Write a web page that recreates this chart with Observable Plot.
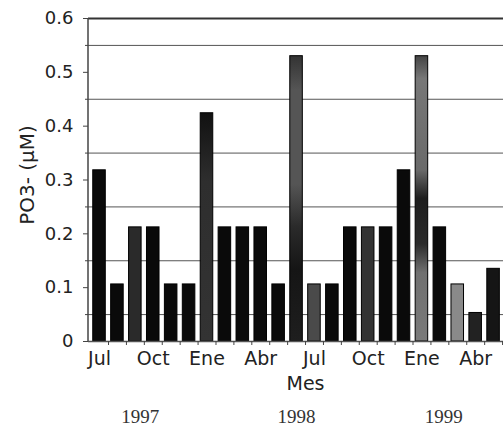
<!DOCTYPE html>
<html>
<head>
<meta charset="utf-8">
<script src="https://cdn.jsdelivr.net/npm/d3@7"></script>
<script src="https://cdn.jsdelivr.net/npm/@observablehq/plot@0.6"></script>
<style>
  html, body { margin: 0; padding: 0; background: #fff; overflow: hidden; }
  #chart svg { display: block; max-width: none !important; }
</style>
</head>
<body>
<div id="chart"></div>
<script>
// Monthly phosphate (PO3-) concentration, July 1997 – June 1999
const months = [
  "1997-07", "1997-08", "1997-09", "1997-10", "1997-11", "1997-12",
  "1998-01", "1998-02", "1998-03", "1998-04", "1998-05", "1998-06",
  "1998-07", "1998-08", "1998-09", "1998-10", "1998-11", "1998-12",
  "1999-01", "1999-02", "1999-03", "1999-04", "1999-05", "1999-06"
];
const po3 = [
  0.318, 0.106, 0.212, 0.212, 0.106, 0.106,
  0.424, 0.212, 0.212, 0.212, 0.106, 0.53,
  0.106, 0.106, 0.212, 0.212, 0.212, 0.318,
  0.53, 0.212, 0.106, 0.053, 0.135, 0.1
];
const tickMonths = ["1997-07", "1997-10", "1998-01", "1998-04", "1998-07", "1998-10", "1999-01", "1999-04"];
const tickLabels = ["Jul", "Oct", "Ene", "Abr", "Jul", "Oct", "Ene", "Abr"];
const years = ["1997", "1998", "1999"];
const yearMonths = ["1997-09", "1998-06", "1999-02"];
const yTicks = [0, 0.1, 0.2, 0.3, 0.4, 0.5, 0.6];
const yGrid = [0.05, 0.15, 0.25, 0.35, 0.45, 0.55];

// Per-bar shading (print-style greys, a few bars shaded with gradients)
const barFill = [
  "#0a0a0a", "#0a0a0a", "#2a2a2a", "#0a0a0a", "#0a0a0a", "#0a0a0a",
  "url(#shadeA)", "#0a0a0a", "#0a0a0a", "#0a0a0a", "#0a0a0a", "url(#shadeB)",
  "#4a4a4a", "#0a0a0a", "#0a0a0a", "#333333", "#0a0a0a", "#0a0a0a",
  "url(#shadeC)", "#0a0a0a", "#8a8a8a", "#222222", "#151515", "#1a1a1a"
];

const data = months.map((m, i) => ({month: m, value: po3[i], fill: barFill[i]}));
const labelOf = new Map(tickMonths.map((m, i) => [m, tickLabels[i]]));

const marks = [
  Plot.ruleY(yGrid, {stroke: "#555", strokeWidth: 1}),
  Plot.ruleY([0.6], {stroke: "#333", strokeWidth: 2}),
  Plot.barY(data, {x: "month", y: "value", fill: "fill", stroke: "#000", strokeWidth: 1}),
  Plot.ruleY([0], {stroke: "#555", strokeWidth: 1.5}),
  Plot.axisY({ticks: yGrid, tickSize: 3, tickFormat: () => "", label: null, stroke: "#444"}),
  Plot.axisY({
    ticks: yTicks, tickSize: 5, tickPadding: 10, label: null, stroke: "#444", fontSize: 18,
    tickFormat: d => d === 0 ? "0" : d.toFixed(1)
  }),
  // small ticks between the monthly bars
  Plot.axisX({ticks: months, tickSize: 4, tickFormat: () => "", dx: 9, label: null, stroke: "#444"}),
  Plot.axisX({
    ticks: tickMonths, tickSize: 0, tickPadding: 10, fontSize: 19,
    tickFormat: d => labelOf.get(d),
    label: "Mes", labelAnchor: "center", labelOffset: 48, labelArrow: "none"
  }),
  Plot.text(["PO3- (µM)"], {
    frameAnchor: "left", textAnchor: "middle", lineAnchor: "middle",
    rotate: -90, dx: -61, dy: -5, fontSize: 20, fill: "#222"
  })
];

const yearDx = [5, 0, 4];
years.forEach((yr, i) => {
  marks.push(Plot.text([yr], {
    x: [yearMonths[i]], frameAnchor: "bottom", dx: yearDx[i], dy: 81,
    fontFamily: "Liberation Serif", fontSize: 19, fill: "#333"
  }));
});

const chart = Plot.plot({
  width: 522,
  height: 428,
  marginLeft: 88,
  marginRight: 0,
  marginTop: 18,
  marginBottom: 87,
  style: {fontFamily: "DejaVu Sans", fontSize: "17px", color: "#222", background: "#fff", overflow: "visible"},
  x: {domain: months, paddingInner: 0.3, paddingOuter: 0.265, round: false, axis: null},
  y: {domain: [0, 0.6], axis: null},
  marks
});

const svg = d3.select(chart);

// Vertical axis line along the left edge of the frame
const [yBottom, yTop] = chart.scale("y").range;
svg.append("line")
  .attr("x1", 88).attr("x2", 88)
  .attr("y1", yBottom).attr("y2", yTop)
  .attr("stroke", "#444").attr("stroke-width", 1.5);

// Gradient fills referenced by barFill
const defs = svg.insert("defs", ":first-child");
const gradients = {
  shadeA: [[0, "#111"], [0.3, "#2e2e2e"], [1, "#333"]],
  shadeB: [[0, "#333"], [0.12, "#555"], [0.45, "#555"], [0.6, "#2a2a2a"], [0.75, "#151515"], [1, "#1e1e1e"]],
  shadeC: [[0, "#444"], [0.08, "#777"], [0.4, "#6a6a6a"], [0.5, "#1e1e1e"], [0.66, "#2a2a2a"], [0.76, "#707070"], [1, "#7a7a7a"]]
};
for (const [id, stops] of Object.entries(gradients)) {
  const g = defs.append("linearGradient").attr("id", id)
    .attr("x1", 0).attr("y1", 0).attr("x2", 0).attr("y2", 1);
  for (const [o, c] of stops) g.append("stop").attr("offset", o).attr("stop-color", c);
}

document.getElementById("chart").append(chart);
</script>
</body>
</html>
